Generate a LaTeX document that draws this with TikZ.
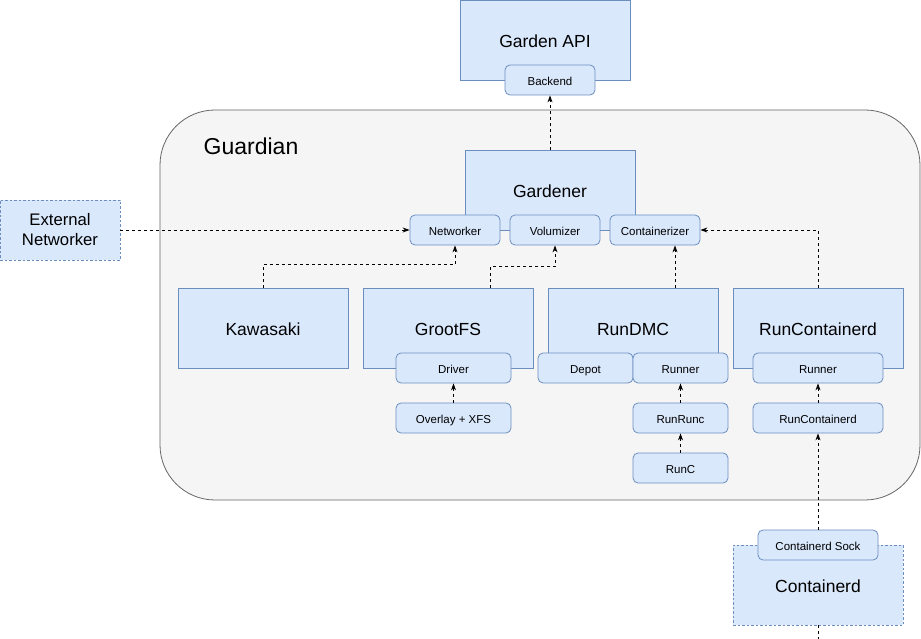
\documentclass[tikz,border=0pt]{standalone}
\usepackage{fontspec}
\setmainfont{Liberation Sans}
\usetikzlibrary{arrows.meta}
\definecolor{boxfill}{HTML}{DAE8FC}
\definecolor{boxline}{HTML}{6C8EBF}
\definecolor{grdfill}{HTML}{F5F5F5}
\definecolor{grdline}{HTML}{666666}
\tikzset{
bigbox/.style={
	draw=boxline, fill=boxfill, line width=0.8pt, inner sep=0pt,
	minimum width=170pt, minimum height=80pt,
	text height=15.5pt, text depth=0pt,
	font=\fontsize{17.5}{20}\selectfont},
extbox/.style={
	bigbox, dash pattern=on 2.5pt off 2pt},
subbox/.style={
	draw=boxline, fill=boxfill, line width=0.8pt, inner sep=0pt,
	rounded corners=5pt, minimum width=90pt, minimum height=30pt,
	text height=10.2pt, text depth=0pt,
	font=\fontsize{11.5}{13}\selectfont},
flow/.style={
	-{Stealth[length=7pt,width=5pt]}, line width=0.8pt,
	dash pattern=on 3pt off 3pt}
}

\begin{document}
\begin{tikzpicture}[x=1pt, y=-1pt]
	\useasboundingbox (0,0) rectangle (921,639);
	% guardian area
	\node[draw=grdline, fill=grdfill, line width=0.8pt, rounded corners=55pt,
		minimum width=760pt, minimum height=390pt, inner sep=0pt]
		(grd) at (540,305) {};
	\node[font=\fontsize{23}{26}\selectfont] (grdlabel) at (251,146) {Guardian};
	% garden api
	\node[bigbox] (api) at (545,40) {Garden API};
	\node[subbox] (back) at (550,80) {Backend};
	% gardener and its interfaces
	\node[bigbox] (gard) at (550,190) {Gardener};
	\node[subbox] (net) at (455,230) {Networker};
	\node[subbox] (vol) at (555,230) {Volumizer};
	\node[subbox] (cont) at (655,230) {Containerizer};
	\draw[boxline, line width=0.8pt] (net.east) -- (vol.west);
	\draw[boxline, line width=0.8pt] (vol.east) -- (cont.west);
	\node[extbox, minimum width=120pt, minimum height=60pt, align=center,
		text height=, text depth=, font=\fontsize{16.7}{20}\selectfont]
		(ext) at (60,230) {External\\Networker};
	% backends
	\node[bigbox] (kaw) at (263,328) {Kawasaki};
	\node[bigbox] (groot) at (448,328) {GrootFS};
	\node[subbox, minimum width=115pt] (drv) at (453.5,368) {Driver};
	\node[subbox, minimum width=115pt] (ovl) at (453.5,418) {Overlay + XFS};
	\node[bigbox] (dmc) at (633,328) {RunDMC};
	\node[subbox, minimum width=95pt] (depot) at (585.5,368) {Depot};
	\node[subbox, minimum width=95pt] (drun) at (680.5,368) {Runner};
	\node[subbox, minimum width=95pt] (runrunc) at (680.5,418) {RunRunc};
	\node[subbox, minimum width=95pt] (runc) at (680.5,468) {RunC};
	\node[bigbox] (rcd) at (818,328) {RunContainerd};
	\node[subbox, minimum width=130pt] (crun) at (818,368) {Runner};
	\node[subbox, minimum width=130pt] (rcdsmall) at (818,418) {RunContainerd};
	% containerd
	\node[extbox] (ctd) at (818,585) {Containerd};
	\node[subbox, minimum width=120pt] (sock) at (818,545) {Containerd Sock};
	\coordinate (offpage) at (818,639);
	% connectors
	\draw[flow] (gard.north) -- (back.south);
	\draw[flow] (ext.east) -- (net.west);
	\draw[flow] (kaw.north) -- ++(0,-23) -| (net.south);
	\draw[flow] ([xshift=42pt]groot.north) -- ++(0,-21) -| (vol.south);
	\coordinate (contin) at ([xshift=20pt]cont.south);
	\draw[flow] (dmc.north -| contin) -- (contin);
	\draw[flow] (rcd.north) |- (cont.east);
	\draw[flow] (ovl.north) -- (drv.south);
	\draw[flow] (runrunc.north) -- (drun.south);
	\draw[flow] (runc.north) -- (runrunc.south);
	\draw[flow] (rcdsmall.north) -- (crun.south);
	\draw[flow] (sock.north) -- (rcdsmall.south);
	\draw[line width=0.8pt, dash pattern=on 3pt off 3pt] (ctd.south) -- (offpage);
\end{tikzpicture}
\end{document}
